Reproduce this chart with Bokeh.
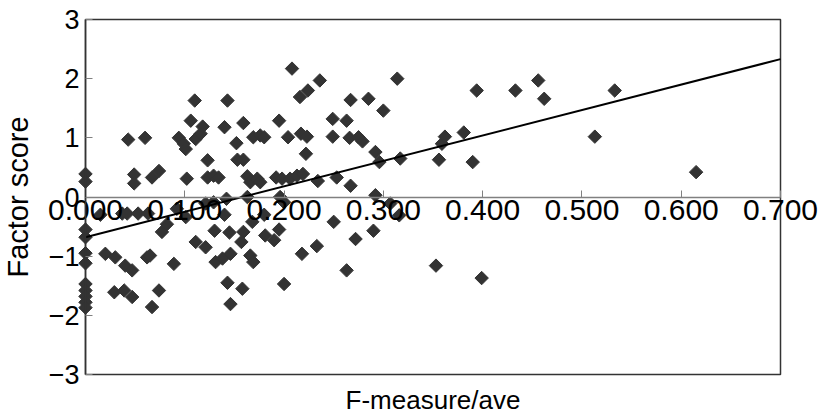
import math
from bokeh.plotting import figure
from bokeh.models import FixedTicker, Range1d, LinearAxis, CustomJSTickFormatter
from bokeh.embed import file_html
from bokeh.resources import INLINE

# ---- data ----
pos_x = [0.000, 0.000, 0.043, 0.049, 0.049, 0.060, 0.067, 0.074,
         0.094, 0.099, 0.101, 0.102, 0.106, 0.110, 0.111, 0.116, 0.118, 0.123, 0.123, 0.129, 0.134,
         0.140, 0.143, 0.152, 0.159, 0.153, 0.159, 0.163, 0.166, 0.173, 0.176, 0.169, 0.176, 0.180,
         0.195, 0.192, 0.198, 0.206, 0.204, 0.208, 0.216, 0.224, 0.217, 0.223, 0.222, 0.213, 0.219, 0.236, 0.234,
         0.253, 0.267, 0.292, 0.249, 0.263, 0.267, 0.285, 0.300, 0.314, 0.249, 0.266, 0.275, 0.279, 0.292, 0.296, 0.317,
         0.356, 0.359, 0.362, 0.381, 0.390, 0.394, 0.433, 0.456, 0.462, 0.533, 0.513, 0.615]
pos_y = [0.39, 0.26, 0.97, 0.38, 0.23, 1.00, 0.33, 0.44,
         1.00, 0.90, 0.81, 0.31, 1.29, 1.63, 0.98, 1.07, 1.19, 0.62, 0.33, 0.36, 0.33,
         1.18, 1.63, 0.91, 1.25, 0.63, 0.63, 0.35, 0.25, 0.31, 0.25, 1.01, 1.04, 1.01,
         1.29, 0.33, 0.31, 0.31, 1.01, 2.17, 1.69, 1.80, 1.07, 1.02, 0.73, 0.36, 0.39, 1.97, 0.27,
         0.33, 0.19, 0.03, 1.32, 1.29, 1.64, 1.66, 1.46, 2.00, 1.02, 1.00, 1.01, 0.94, 0.76, 0.59, 0.65,
         0.63, 0.90, 1.02, 1.09, 0.59, 1.80, 1.80, 1.97, 1.66, 1.80, 1.02, 0.42]

neg_x = [0.163, 0.196, 0.142, 0.121, 0.129, 0.200, 0.307, 0.316,
         0.000, 0.000, 0.000, 0.000, 0.000, 0.000, 0.000, 0.000, 0.000,
         0.015, 0.037, 0.042, 0.053, 0.063, 0.092, 0.101, 0.082, 0.077,
         0.111, 0.121, 0.130, 0.020, 0.030, 0.040, 0.047, 0.062, 0.065, 0.089, 0.131,
         0.029, 0.039, 0.047, 0.074, 0.067,
         0.145, 0.159, 0.157, 0.146, 0.138, 0.143, 0.158, 0.146, 0.166, 0.169, 0.181, 0.190, 0.195,
         0.200, 0.218, 0.233, 0.168, 0.140, 0.180,
         0.250, 0.272, 0.263, 0.290, 0.353, 0.399]
neg_y = [0.00, 0.00, -0.03, -0.11, -0.09, -0.09, -0.11, -0.31,
         -0.55, -0.68, -0.95, -1.12, -1.47, -1.58, -1.68, -1.78, -1.87,
         -0.30, -0.28, -0.28, -0.28, -0.28, -0.20, -0.34, -0.46, -0.59,
         -0.76, -0.85, -0.57, -0.96, -1.02, -1.16, -1.24, -1.02, -0.99, -1.13, -1.10,
         -1.61, -1.58, -1.69, -1.58, -1.86,
         -0.60, -0.59, -0.76, -0.96, -1.04, -1.45, -1.55, -1.81, -0.99, -1.10, -0.65, -0.73, -0.55,
         -1.47, -0.96, -0.83, -0.42, -0.30, -0.30,
         -0.42, -0.71, -1.24, -0.57, -1.16, -1.37]

fit_x = [0.0, 0.7]
fit_y = [-0.68, 2.33]

x_ticks = [0.0, 0.1, 0.2, 0.3, 0.4, 0.5, 0.6, 0.7]
y_ticks = [-3, -2, -1, 0, 1, 2, 3]

x_title = "F-measure/ave"
y_title = "Factor score"

FONT = "Liberation Sans"

# layout: plot box occupies pixels 85..780 (x) and 19..374 (y) of the 818x419 canvas
W, H = 818, 419
BOX_L, BOX_R, BOX_T, BOX_B = 85, 780, 19, 374
xmin, xmax = x_ticks[0], x_ticks[-1]
ymin, ymax = y_ticks[0], y_ticks[-1]
xs = (xmax - xmin) / (BOX_R - BOX_L)
ys = (ymax - ymin) / (BOX_B - BOX_T)
x_range = Range1d(xmin - BOX_L * xs, xmax + (W - BOX_R) * xs)
y_range = Range1d(ymin - (H - BOX_B) * ys, ymax + BOX_T * ys)

p = figure(width=W, height=H, output_backend="svg", toolbar_location=None,
           x_range=x_range, y_range=y_range,
           x_axis_location=None, y_axis_location=None,
           min_border=0, min_border_left=0, min_border_right=0,
           min_border_top=0, min_border_bottom=0)
p.background_fill_color = "white"
p.border_fill_color = "white"
p.outline_line_color = None
p.xgrid.visible = False
p.ygrid.visible = False

# plot box
p.quad(left=[xmin], right=[xmax], bottom=[ymin], top=[ymax],
       fill_color=None, line_color="#333333", line_width=1.5)

# y axis at x = 0
ya = LinearAxis(fixed_location=xmin, bounds=(ymin, ymax))
ya.ticker = FixedTicker(ticks=y_ticks)
ya.major_tick_in = 7
ya.major_tick_out = 0
ya.minor_tick_line_color = None
ya.major_tick_line_color = "#808080"
ya.axis_line_color = "#333333"
ya.axis_line_width = 1.5
ya.major_label_text_font = FONT
ya.major_label_text_font_size = "27px"
ya.major_label_text_color = "black"
ya.major_label_standoff = 6
ya.axis_label = y_title
ya.axis_label_text_font = FONT
ya.axis_label_text_font_size = "29px"
ya.axis_label_text_font_style = "normal"
ya.axis_label_text_color = "black"
ya.axis_label_standoff = 12
p.add_layout(ya, "left")

# x axis crossing at y = 0 (ticks pointing up, labels below)
xa = LinearAxis(fixed_location=0, bounds=(xmin, xmax))
xa.ticker = FixedTicker(ticks=x_ticks)
xa.formatter = CustomJSTickFormatter(code="return tick.toFixed(3);")
xa.axis_line_color = "#808080"
xa.axis_line_width = 1.5
xa.major_tick_in = 7
xa.major_tick_out = 0
xa.major_tick_line_color = "#808080"
xa.minor_tick_line_color = None
xa.major_label_text_font = FONT
xa.major_label_text_font_size = "30px"
xa.major_label_text_color = "black"
xa.major_label_standoff = 3
p.add_layout(xa, "below")

# bottom axis only for the title
xt = LinearAxis(fixed_location=ymin, bounds=(xmin, xmax), ticker=FixedTicker(ticks=[]))
xt.axis_line_color = None
xt.major_tick_line_color = None
xt.minor_tick_line_color = None
xt.axis_label = x_title
xt.axis_label_text_font = FONT
xt.axis_label_text_font_size = "26px"
xt.axis_label_text_font_style = "normal"
xt.axis_label_text_color = "black"
xt.axis_label_standoff = 10
p.add_layout(xt, "below")

# points
p.scatter(pos_x + neg_x, pos_y + neg_y, marker="square", angle=math.pi / 4, size=9.5,
          fill_color="#333333", line_color="#333333")

# regression line
p.line(fit_x, fit_y, line_color="black", line_width=2)

open("out.html", "w").write(file_html(p, INLINE))
